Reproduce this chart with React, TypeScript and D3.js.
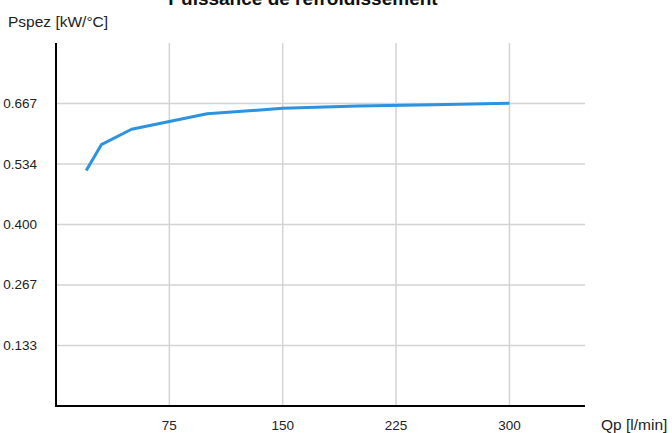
import React from "react";
import * as d3 from "d3";

const flowRates = [20, 30, 50, 75, 100, 150, 200, 250, 300];
const powerValues = [0.519, 0.576, 0.61, 0.627, 0.644, 0.656, 0.661, 0.664, 0.667];
const xTicks = [75, 150, 225, 300];
const yTicks = [0.1333, 0.2667, 0.4, 0.5333, 0.6667];
const yTickLabels = ["0.133", "0.267", "0.400", "0.534", "0.667"];
const title = "Puissance de refroidissement";
const yLabel = "Pspez [kW/°C]";
const xLabel = "Qp [l/min]";

const W = 672;
const H = 433;
const left = 56;
const right = 585;
const top = 43;
const bottom = 406;

export default function App() {
  const x = d3.scaleLinear().domain([0, 350]).range([left, right]);
  const y = d3.scaleLinear().domain([0, 0.8]).range([bottom, top]);
  const pts: [number, number][] = flowRates.map((q, i) => [q, powerValues[i]]);
  const line = d3
    .line<[number, number]>()
    .x((d) => x(d[0]))
    .y((d) => y(d[1]));
  const font = "Arial, 'Liberation Sans', sans-serif";
  return (
    <svg
      width={W}
      height={H}
      style={{ position: "absolute", left: 0, top: 0 }}
      fontFamily={font}
    >
      <rect width={W} height={H} fill="#fff" />
      {xTicks.map((t) => (
        <line key={"gx" + t} x1={x(t)} x2={x(t)} y1={top} y2={bottom} stroke="#d3d3d3" strokeWidth={1.5} />
      ))}
      {yTicks.map((t) => (
        <line key={"gy" + t} x1={left} x2={right} y1={y(t)} y2={y(t)} stroke="#d3d3d3" strokeWidth={1.5} />
      ))}
      <path d={line(pts) || ""} fill="none" stroke="#2b93df" strokeWidth={3} strokeLinejoin="round" />
      <line x1={left} x2={left} y1={top} y2={bottom} stroke="#000" strokeWidth={2} />
      <line x1={left - 1} x2={right} y1={bottom} y2={bottom} stroke="#000" strokeWidth={2} />
      {xTicks.map((t) => (
        <text key={"tx" + t} x={x(t)} y={430} textAnchor="middle" fontSize={13.5} fill="#222">
          {t}
        </text>
      ))}
      {yTicks.map((t, i) => (
        <text key={"ty" + t} x={37} y={y(t) + 4.5} textAnchor="end" fontSize={13.5} fill="#222">
          {yTickLabels[i]}
        </text>
      ))}
      <text x={8} y={27} fontSize={15.5} fill="#222">
        {yLabel}
      </text>
      <text x={601} y={430} fontSize={15.5} fill="#222">
        {xLabel}
      </text>
      <text x={303} y={5} textAnchor="middle" fontSize={19} fontWeight="bold" fill="#111">
        {title}
      </text>
    </svg>
  );
}
